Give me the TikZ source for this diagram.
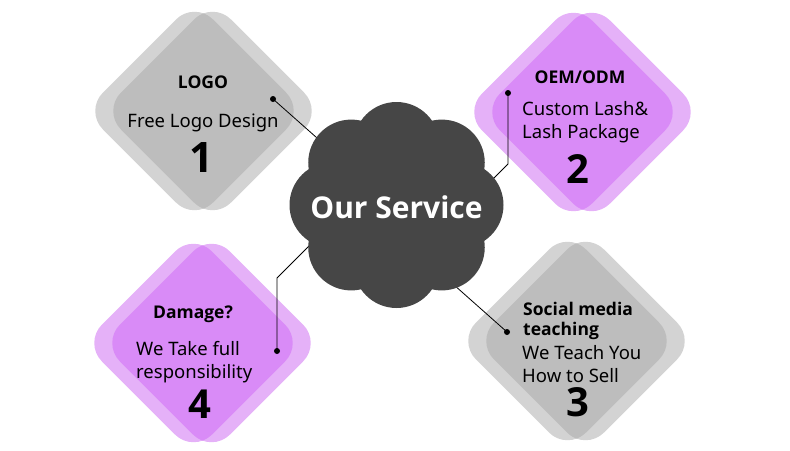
\documentclass[tikz,border=0pt]{standalone}
\usepackage{fontspec}
\setmainfont{Noto Sans}
\newfontfamily\headfont{Open Sans}
\usetikzlibrary{positioning}
\definecolor{greylight}{HTML}{D3D3D3}
\definecolor{greydark}{HTML}{BDBDBD}
\definecolor{purplelight}{HTML}{E5B1F8}
\definecolor{purpledark}{HTML}{D98BF7}
\definecolor{flowergrey}{HTML}{464646}
% one rounded square standing on its corner
\newcommand{\kitepath}[2]{(#1,#2-110) -- (#1+110,#2) -- (#1,#2+110) -- (#1-110,#2) -- cycle}
% two overlapping kites: centre x, centre y, light colour, dark colour
\newcommand{\kitepair}[4]{%
  \fill[#3, rounded corners=26] \kitepath{#1-9}{#2};
  \fill[#3, rounded corners=26] \kitepath{#1+9}{#2};
  \begin{scope}
    \clip[rounded corners=26] \kitepath{#1-9}{#2};
    \fill[#4, rounded corners=26] \kitepath{#1+9}{#2};
  \end{scope}}
\tikzset{
 head/.style
  = {font=\headfont\bfseries\fontsize{17.5}{20}\selectfont, inner sep=0pt, align=left},
 body/.style
  = {font=\fontsize{18.5}{23}\selectfont, inner sep=0pt, align=left},
 num/.style
  = {font=\headfont\bfseries\fontsize{40}{40}\selectfont, inner sep=0pt},
 link/.style
  = {draw, line width=0.8pt, black},
 pin/.style
  = {circle, fill=black, inner sep=0pt, minimum size=6pt},
 service/.style
  = {text=white, inner sep=0pt, font=\headfont\bfseries\fontsize{30}{36}\selectfont}
}
\begin{document}
\begin{tikzpicture}[x=1pt, y=-1pt]
    \useasboundingbox (0,0) rectangle (790,450);

    % the four cards
    \kitepair{203.5}{111}{greylight}{greydark}
    \kitepair{582.5}{112}{purplelight}{purpledark}
    \kitepair{576.5}{341}{greylight}{greydark}
    \kitepair{202.5}{343}{purplelight}{purpledark}

    % base of a two-line node = baseline of its last line
    \node [head, anchor=base] (logohead) at (203,88) {LOGO};
    \node [body, anchor=base] (logotext) at (203,127) {Free Logo Design};
    \node [num, anchor=base, font=\headfont\bfseries\fontsize{42}{42}\selectfont] (logonum) at (201,172) {1};

    \node [head, anchor=base] (oemhead) at (580,83) {OEM/ODM};
    \node [body, anchor=base west] (oemtext) at (522,138) {Custom Lash\&\\Lash Package};
    \node [num, anchor=base] (oemnum) at (578,183) {2};

    \node [head, anchor=base west] (socialhead) at (523,335) {Social media\\teaching};
    \node [body, anchor=base west] (socialtext) at (522,382) {We Teach You\\How to Sell};
    \node [num, anchor=base] (socialnum) at (578,416) {3};

    \node [head, anchor=base] (damagehead) at (193,318) {Damage?};
    \node [body, anchor=base west] (damagetext) at (136,378) {We Take full\\responsibility};
    \node [num, anchor=base] (damagenum) at (200,418) {4};

    % connectors, ending under the badge
    \node [pin] (dot1) at (273,99) {};
    \node [pin] (dot2) at (508,93) {};
    \node [pin] (dot3) at (507,332) {};
    \node [pin] (dot4) at (277,351) {};
    \coordinate (end1) at (343,161);
    \coordinate (bend2) at (508,164);
    \coordinate (end2) at (473,199);
    \coordinate (end3) at (427,261);
    \coordinate (bend4) at (277,278);
    \coordinate (end4) at (327,228);

    \path [link] (dot1.center) -- (end1);
    \path [link] (dot2.center) -- (bend2) -- (end2);
    \path [link] (dot3.center) -- (end3);
    \path [link] (dot4.center) -- (bend4) -- (end4);

    % the badge
    \fill [flowergrey] (396.5,205) circle (72);
    \foreach \a in {0,45,...,315}
      \fill [flowergrey, shift={(396.5,205)}] (\a:64 and 60) circle (43);
    \node [service] (service) at (396.5,207) {Our Service};

\end{tikzpicture}
\end{document}
